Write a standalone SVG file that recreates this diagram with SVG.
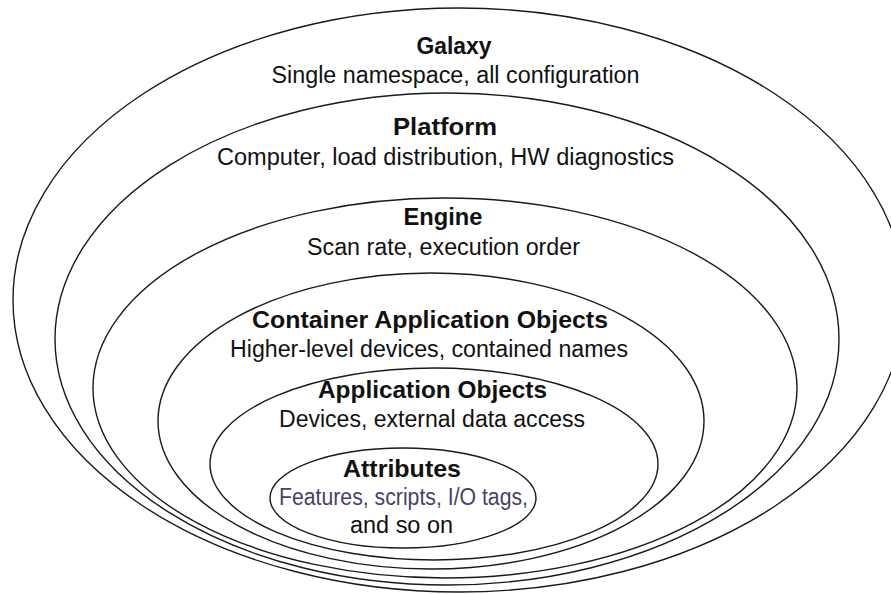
<svg xmlns="http://www.w3.org/2000/svg" width="891" height="594" viewBox="0 0 891 594">
<style>
.ring{fill:#fff;stroke:#1a1a1a;stroke-width:1.4}
.t{font-family:"Liberation Sans",Arial,sans-serif;text-anchor:middle;fill:#111}
.h{font-size:24px;font-weight:bold}
.s{font-size:23px}
.c{fill:#4a3f66}
</style>
<rect width="891" height="594" fill="#fff"/>
<g id="galaxy">
<ellipse class="ring" cx="459" cy="300" rx="446" ry="292"/>
<text class="t h" x="454" y="54" textLength="75" lengthAdjust="spacingAndGlyphs">Galaxy</text>
<text class="t s" x="455.5" y="83" textLength="368" lengthAdjust="spacingAndGlyphs">Single namespace, all configuration</text>
</g>
<g id="platform">
<ellipse class="ring" cx="447" cy="339" rx="392" ry="246"/>
<text class="t h" x="445" y="135" textLength="104" lengthAdjust="spacingAndGlyphs">Platform</text>
<text class="t s" x="445.5" y="165" textLength="457" lengthAdjust="spacingAndGlyphs">Computer, load distribution, HW diagnostics</text>
</g>
<g id="engine">
<ellipse class="ring" cx="445" cy="388" rx="352" ry="190"/>
<text class="t h" x="443" y="225" textLength="79" lengthAdjust="spacingAndGlyphs">Engine</text>
<text class="t s" x="443.5" y="255" textLength="273" lengthAdjust="spacingAndGlyphs">Scan rate, execution order</text>
</g>
<g id="container-application-objects">
<ellipse class="ring" cx="431" cy="421" rx="273" ry="148"/>
<text class="t h" x="430" y="328" textLength="356" lengthAdjust="spacingAndGlyphs">Container Application Objects</text>
<text class="t s" x="429" y="357" textLength="398" lengthAdjust="spacingAndGlyphs">Higher-level devices, contained names</text>
</g>
<g id="application-objects">
<ellipse class="ring" cx="434" cy="464" rx="224" ry="96"/>
<text class="t h" x="432.5" y="398" textLength="229" lengthAdjust="spacingAndGlyphs">Application Objects</text>
<text class="t s" x="432" y="427" textLength="306" lengthAdjust="spacingAndGlyphs">Devices, external data access</text>
</g>
<g id="attributes">
<ellipse class="ring" cx="403" cy="498" rx="133" ry="50"/>
<text class="t h" x="402" y="477" textLength="118" lengthAdjust="spacingAndGlyphs">Attributes</text>
<text class="t s c" x="403.5" y="505" textLength="249" lengthAdjust="spacingAndGlyphs">Features, scripts, I/O tags,</text>
<text class="t s" x="401.5" y="533" textLength="103" lengthAdjust="spacingAndGlyphs">and so on</text>
</g>
<g id="connectors"/>
</svg>
